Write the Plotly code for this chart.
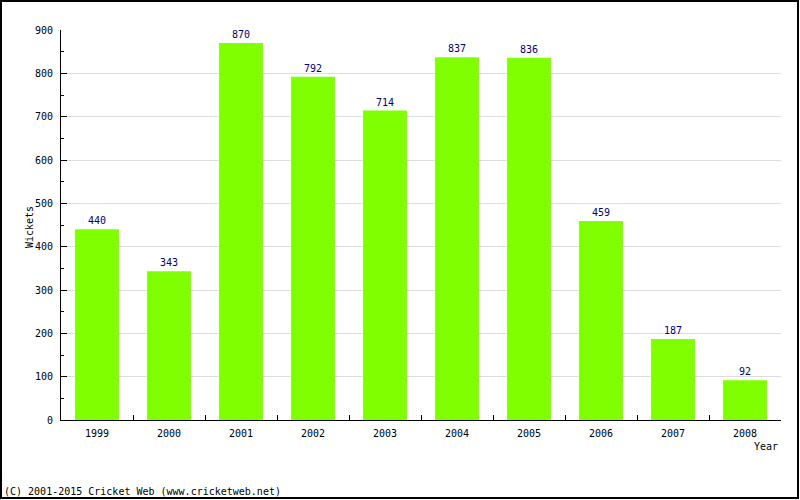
import plotly.graph_objects as go

years = ["1999", "2000", "2001", "2002", "2003", "2004", "2005", "2006", "2007", "2008"]
wickets = [440, 343, 870, 792, 714, 837, 836, 459, 187, 92]

W, H = 800, 500
L, R, T, B = 61, 19, 30, 80
pw, ph = W - L - R, H - T - B

font = "DejaVu Sans Mono"
FS = 10

fig = go.Figure(go.Bar(
    x=years, y=wickets,
    marker=dict(color="#80FF00", line=dict(width=0)),
    width=0.61,
    text=[str(v) for v in wickets],
    textposition="outside",
    cliponaxis=False,
    textfont=dict(family=font, size=FS, color="#000080"),
))

fig.update_layout(
    width=W, height=H,
    margin=dict(l=L, r=R, t=T, b=B, pad=0),
    paper_bgcolor="white", plot_bgcolor="white",
    showlegend=False,
    font=dict(family=font, size=FS, color="black"),
    bargap=0.39,
    uniformtext=dict(minsize=FS),
)
fig.update_xaxes(
    type="category", tickson="boundaries", ticks="inside", ticklen=5,
    tickcolor="black", showline=True, linecolor="black", linewidth=1,
    showgrid=False, tickfont=dict(family=font, size=FS, color="black"),
    ticklabelstandoff=4,
)
fig.update_yaxes(
    range=[0, 900], dtick=100, ticks="inside", ticklen=6, tickcolor="black",
    showline=True, linecolor="black", linewidth=1,
    showgrid=True, gridcolor="#dddddd", gridwidth=1, zeroline=False,
    minor=dict(dtick=50, ticks="inside", ticklen=3, tickcolor="black", showgrid=False),
    tickfont=dict(family=font, size=FS, color="black"),
    ticklabelstandoff=5,
)

def px(x):
    return (x - L) / pw

def py(y):
    return (H - B - y) / ph

fig.add_annotation(text="Wickets", textangle=-90, xref="paper", yref="paper",
                   x=px(29), y=py(227), xanchor="center", yanchor="middle",
                   showarrow=False, font=dict(family=font, size=FS, color="black"))
fig.add_annotation(text="Year", xref="paper", yref="paper",
                   x=px(780), y=py(446), xanchor="right", yanchor="middle",
                   showarrow=False, font=dict(family=font, size=FS, color="black"))
fig.add_annotation(text="(C) 2001-2015 Cricket Web (www.cricketweb.net)",
                   xref="paper", yref="paper",
                   x=px(2), y=py(491), xanchor="left", yanchor="middle",
                   showarrow=False, font=dict(family=font, size=FS, color="black"))

fig.add_shape(type="rect", xref="paper", yref="paper",
              x0=px(1), x1=px(798), y0=py(498), y1=py(1),
              line=dict(color="black", width=2), fillcolor="rgba(0,0,0,0)", layer="above")

fig.write_html("out.html")
